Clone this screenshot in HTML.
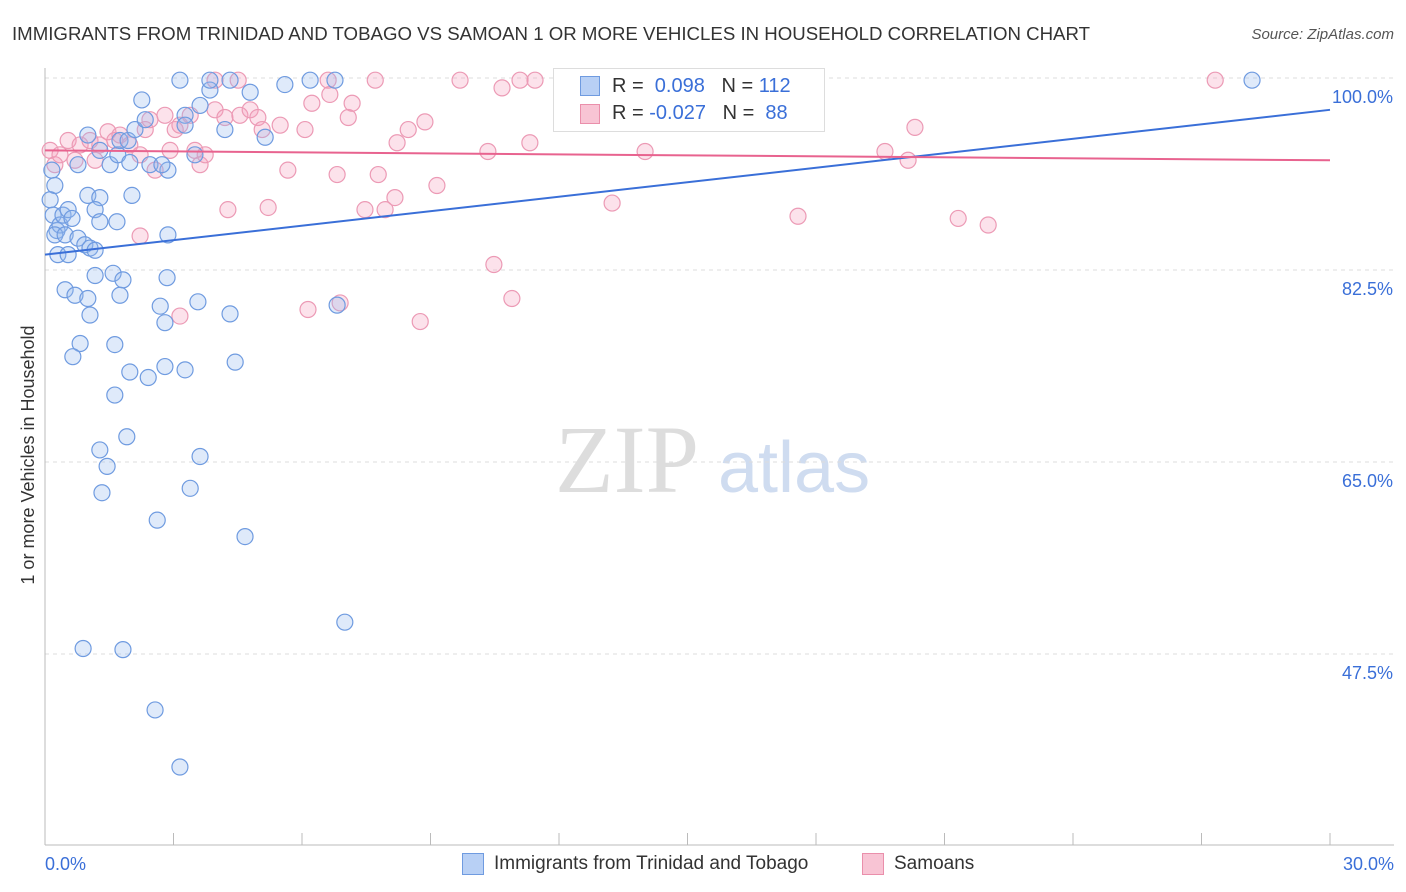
<!DOCTYPE html>
<html><head><meta charset="utf-8">
<style>
body{margin:0;background:#fff;font-family:"Liberation Sans",sans-serif;}
#wrap{position:relative;width:1406px;height:892px;}
</style></head>
<body><div id="wrap">
<svg id="svg" width="1406" height="892" style="position:absolute;left:0;top:0">
<text x="12" y="40" font-size="18" fill="#333" textLength="1078" lengthAdjust="spacingAndGlyphs">IMMIGRANTS FROM TRINIDAD AND TOBAGO VS SAMOAN 1 OR MORE VEHICLES IN HOUSEHOLD CORRELATION CHART</text>
<text x="1394" y="39" font-size="15" fill="#555" font-style="italic" text-anchor="end">Source: ZipAtlas.com</text>
<text x="555" y="492" font-size="96" fill="#ddd" font-family="Liberation Serif">ZIP</text>
<text x="718" y="492" font-size="72" fill="#cfdcf0">atlas</text>
<text transform="translate(34,455) rotate(-90)" font-size="18" fill="#333" text-anchor="middle">1 or more Vehicles in Household</text>
<g id="grid"></g><g id="marks"></g>
</svg>
<div style="position:absolute;left:553px;top:68px;width:270px;height:62px;border:1px solid #ddd;background:#fff;font-size:20px;">
<div style="position:absolute;left:26px;top:7px;width:18px;height:18px;background:#b8d0f5;border:1px solid #6f9be0"></div>
<div style="position:absolute;left:58px;top:6px;color:#333">R = <span style="color:#3a6fd8">&nbsp;0.098</span>&nbsp;&nbsp;&nbsp;N = <span style="color:#3a6fd8">112</span></div>
<div style="position:absolute;left:26px;top:35px;width:18px;height:18px;background:#f8c4d4;border:1px solid #ea8fab"></div>
<div style="position:absolute;left:58px;top:33px;color:#333">R = <span style="color:#3a6fd8">-0.027</span>&nbsp;&nbsp;&nbsp;N = <span style="color:#3a6fd8">&nbsp;88</span></div>
</div>
<div style="position:absolute;left:462px;top:853px;width:20px;height:20px;background:#b8d0f5;border:1px solid #6f9be0"></div>
<div style="position:absolute;left:494px;top:853px;font-size:19px;color:#333">Immigrants from Trinidad and Tobago</div>
<div style="position:absolute;left:862px;top:853px;width:20px;height:20px;background:#f8c4d4;border:1px solid #ea8fab"></div>
<div style="position:absolute;left:894px;top:853px;font-size:19px;color:#333">Samoans</div>
</div>
<script>
const yTicks=[100,82.5,65,47.5];
const yTickLabels=["100.0%","82.5%","65.0%","47.5%"];
const blueX=[0.16,0.23,0.12,0.19,0.28,0.35,0.42,0.54,0.23,0.47,0.63,0.77,0.93,1.05,1.17,0.30,0.54,1.00,1.28,1.17,1.28,1.68,2.03,0.77,1.00,1.28,1.52,1.70,1.98,1.75,1.94,2.10,2.26,2.34,2.45,2.87,2.73,2.87,3.27,3.27,3.50,3.62,3.85,3.15,3.85,4.32,4.79,4.20,5.14,5.60,6.19,6.77,28.18,1.17,1.59,1.82,0.47,0.70,1.00,1.75,1.05,2.69,2.80,2.85,3.57,4.32,6.82,0.82,0.65,1.63,1.98,2.41,2.80,3.27,4.44,1.63,1.91,1.28,1.45,1.33,3.62,3.39,2.62,4.67,7.00,0.89,1.82,2.57,3.15];
const blueY=[91.6,90.2,88.9,87.5,86.1,86.6,87.5,88.0,85.7,85.7,87.2,85.4,84.8,84.5,84.3,83.9,83.9,89.3,89.1,88.0,86.9,86.9,89.3,92.1,94.8,93.4,92.1,93.0,92.3,94.3,94.3,95.3,98.0,96.2,92.1,91.6,92.1,85.7,96.6,95.7,93.0,97.5,98.9,99.8,99.8,99.8,98.7,95.3,94.6,99.4,99.8,99.8,99.8,82.0,82.2,81.6,80.7,80.2,79.9,80.2,78.4,79.2,77.7,81.8,79.6,78.5,79.3,75.8,74.6,75.7,73.2,72.7,73.7,73.4,74.1,71.1,67.3,66.1,64.6,62.2,65.5,62.6,59.7,58.2,50.4,48.0,47.9,42.4,37.2];
const pinkX=[0.12,0.23,0.35,0.54,0.70,0.82,1.05,1.17,1.28,1.47,1.63,1.75,1.98,2.22,2.34,2.45,2.57,2.80,2.92,3.04,3.15,3.39,3.50,3.62,3.74,3.97,4.20,4.27,4.55,4.79,4.97,5.07,5.21,5.49,5.67,6.07,6.23,6.14,6.65,6.82,6.89,7.08,7.17,7.47,7.78,7.94,8.17,8.22,8.48,8.87,8.76,9.15,9.69,10.34,10.48,10.67,10.90,11.09,11.32,11.44,12.38,13.24,14.01,15.29,17.58,19.61,20.15,20.31,21.32,22.02,27.32,3.15,2.22,7.71,6.61,4.51,3.97];
const pinkY=[93.4,92.1,93.0,94.3,92.5,93.9,94.3,92.5,93.9,95.1,94.3,94.8,93.9,93.0,95.3,96.2,91.6,96.6,93.4,95.3,95.7,96.6,93.4,92.1,93.0,97.1,96.4,88.0,96.6,97.1,96.4,95.3,88.2,95.7,91.6,95.3,97.7,78.9,98.5,91.2,79.5,96.4,97.7,88.0,91.2,88.0,89.1,94.1,95.3,96.0,77.8,90.2,99.8,93.3,83.0,99.1,79.9,99.8,94.1,99.8,99.8,88.6,93.3,99.8,87.4,93.3,92.5,95.5,87.2,86.6,99.8,78.3,85.6,99.8,99.8,99.8,99.8];
const blueTrend=[83.9,97.1];
const pinkTrend=[93.4,92.5];
const X=v=>45+v/30*1285, Y=v=>78+(100-v)*192/17.5;
const NS="http://www.w3.org/2000/svg";
function mk(p,t,a){const e=document.createElementNS(NS,t);for(const k in a)e.setAttribute(k,a[k]);p.appendChild(e);return e;}
const g=document.getElementById('grid'),m=document.getElementById('marks');
yTicks.forEach((t,i)=>{const l=mk(g,'line',{x1:45,x2:1394,y1:Y(t),y2:Y(t),stroke:'#ddd','stroke-dasharray':'4,4'});

const tx=mk(g,'text',{x:1393,y:Y(t)+25,'font-size':18,fill:'#3a6fd8','text-anchor':'end'});tx.textContent=yTickLabels[i];
});
const ax=mk(g,'line',{x1:45,x2:1394,y1:845,y2:845,stroke:'#bbb'});
const ay=mk(g,'line',{x1:45,x2:45,y1:68,y2:845,stroke:'#bbb'});
for(let i=0;i<=10;i++){const t=mk(g,'line',{x1:X(i*3),x2:X(i*3),y1:845,y2:833,stroke:'#bbb'});}
const x0=mk(g,'text',{x:45,y:870,'font-size':18,fill:'#3a6fd8'});x0.textContent='0.0%';
const x1=mk(g,'text',{x:1394,y:870,'font-size':18,fill:'#3a6fd8','text-anchor':'end'});x1.textContent='30.0%';
pinkX.forEach((v,i)=>{const c=mk(m,'circle',{cx:X(v),cy:Y(pinkY[i]),r:8,fill:'rgba(244,160,190,0.3)',stroke:'#ec9ab5','stroke-width':1.2});
});
blueX.forEach((v,i)=>{const c=mk(m,'circle',{cx:X(v),cy:Y(blueY[i]),r:8,fill:'rgba(150,185,240,0.3)',stroke:'#6f9be0','stroke-width':1.2});
});
const bl=mk(m,'line',{x1:X(0),y1:Y(blueTrend[0]),x2:X(30),y2:Y(blueTrend[1]),stroke:'#3a6fd8','stroke-width':2});

const pl=mk(m,'line',{x1:X(0),y1:Y(pinkTrend[0]),x2:X(30),y2:Y(pinkTrend[1]),stroke:'#e8638f','stroke-width':2});

</script>
</body></html>
